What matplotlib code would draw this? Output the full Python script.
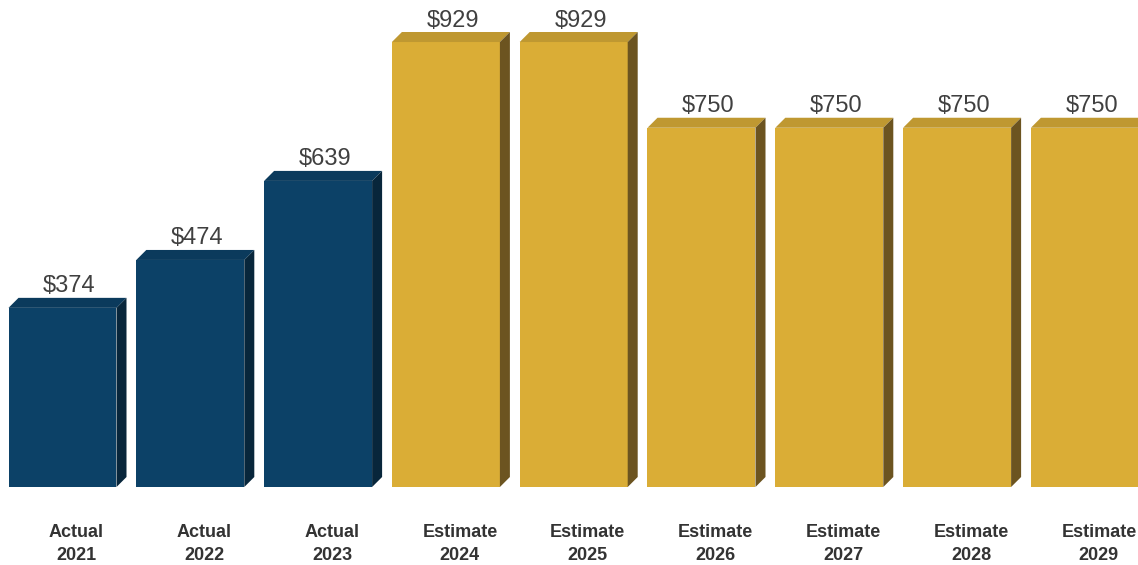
import matplotlib
matplotlib.use("Agg")
import matplotlib.pyplot as plt
from matplotlib.patches import Polygon

categories = ["Actual\n2021", "Actual\n2022", "Actual\n2023", "Estimate\n2024", "Estimate\n2025",
              "Estimate\n2026", "Estimate\n2027", "Estimate\n2028", "Estimate\n2029"]
values = [374, 474, 639, 929, 929, 750, 750, 750, 750]
labels = ["$374", "$474", "$639", "$929", "$929", "$750", "$750", "$750", "$750"]
kinds = ["actual"] * 3 + ["estimate"] * 6

front = {"actual": "#0c4167", "estimate": "#daad36"}
top = {"actual": "#0b3a5c", "estimate": "#bf9831"}
side = {"actual": "#08263b", "estimate": "#6c5420"}

W, H = 1138, 565
fig = plt.figure(figsize=(W / 100, H / 100), dpi=100)
ax = fig.add_axes([0, 0, 1, 1])
ax.axis("off")

spacing_px = 127.8
px_per_val = 0.479
base_px = 487
first_center_px = 62.5
ax.set_xlim(-first_center_px / spacing_px, (W - first_center_px) / spacing_px)
ax.set_ylim(-(H - base_px) / px_per_val, base_px / px_per_val)

width = 108 / spacing_px
dx = 10 / spacing_px
dy = 10 / px_per_val

x = list(range(len(values)))
bars = ax.bar(x, values, width=width, color=[front[k] for k in kinds], zorder=2)

for b, k, lab, cat in zip(bars, kinds, labels, categories):
    x0 = b.get_x()
    x1 = x0 + b.get_width()
    h = b.get_height()
    ax.add_patch(Polygon([(x0, h), (x1, h), (x1 + dx, h + dy), (x0 + dx, h + dy)],
                         closed=True, facecolor=top[k], edgecolor="none", zorder=2))
    ax.add_patch(Polygon([(x1, 0), (x1 + dx, dy), (x1 + dx, h + dy), (x1, h)],
                         closed=True, facecolor=side[k], edgecolor="none", zorder=2))
    cx = (x0 + x1) / 2
    ax.text(cx + 7 / spacing_px, h + dy + 1, lab, ha="center", va="bottom",
            fontsize=17, color="#404040", family="Liberation Sans")
    ax.text(cx + 14 / spacing_px, -(544 - base_px) / px_per_val, cat, ha="center", va="center",
            fontsize=13, fontweight="bold", color="#333333", family="Liberation Sans",
            linespacing=1.45)

fig.savefig("out.png", dpi=100)
